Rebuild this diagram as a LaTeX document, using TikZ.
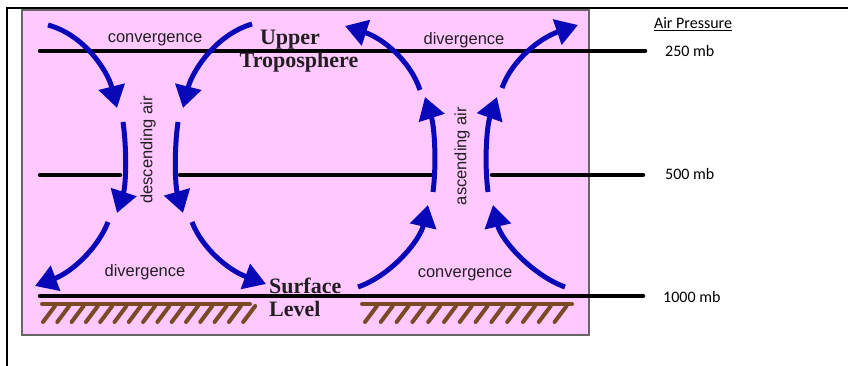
\documentclass[tikz,border=0pt]{standalone}
\usepackage{fontspec}
\setmainfont{Liberation Serif}
\newfontfamily\sansf{Liberation Sans}
\newfontfamily\calib{Carlito}
\usetikzlibrary{arrows.meta}
\definecolor{pinkbg}{RGB}{255,200,255}
\definecolor{flowblue}{RGB}{8,8,185}
\definecolor{ground}{RGB}{122,74,37}
\definecolor{txt}{RGB}{35,30,35}
\tikzset{
  level/.style={line width=4.5pt, line cap=round, black},
  flow/.style={line width=5pt, flowblue, -{Triangle[length=22pt,width=26pt]}},
  lbl/.style={font=\sansf\fontsize{16.5}{18}\selectfont, text=txt, inner sep=0pt},
  big/.style={font=\bfseries\fontsize{22}{24}\selectfont, text=txt, inner sep=0pt},
  prs/.style={font=\calib\fontsize{16}{18}\selectfont, text=black, inner sep=0pt},
  hatch/.style={line width=4pt, ground, line cap=round}
}
\begin{document}
\begin{tikzpicture}[x=1pt,y=-1pt]
\useasboundingbox (0,0) rectangle (848,366);
\fill[white] (0,0) rectangle (848,366);
% outer frame
\draw[line width=2pt] (848,8) -- (7,8) -- (7,366);
% pink panel
\filldraw[fill=pinkbg, draw=gray!80!black, line width=1.5pt] (22,10) rectangle (589,335);
% pressure levels
\draw[level] (40,51) -- (645,51);
\draw[level] (40,175) -- (120,175);
\draw[level] (180,175) -- (431,175);
\draw[level] (492,175) -- (643,175);
\draw[level] (40,296) -- (643,296);
% ground hatching
\draw[hatch] (42,304) -- (250,304);
\foreach \i in {0,...,14} \draw[hatch] ({43+14.3*\i},322) -- ({55+14.3*\i},306);
\draw[hatch] (362,304) -- (572,304);
\foreach \i in {0,...,12} \draw[hatch] ({365+15.8*\i},322) -- ({377+15.8*\i},306);
% coordinates of flows
\coordinate (a1s) at (48,25);   \coordinate (a1e) at (117,108);
\coordinate (a2s) at (252,24);  \coordinate (a2e) at (183,108);
\coordinate (a3s) at (123,122); \coordinate (a3e) at (117,213);
\coordinate (a4s) at (178,122); \coordinate (a4e) at (183,213);
\coordinate (a5s) at (108,222); \coordinate (a5e) at (35,286);
\coordinate (a6s) at (192,222); \coordinate (a6e) at (266,284);
\coordinate (b1s) at (358,287); \coordinate (b1e) at (428,205);
\coordinate (b2s) at (565,287); \coordinate (b2e) at (493,205);
\coordinate (b3s) at (433,192); \coordinate (b3e) at (425,97);
\coordinate (b4s) at (488,192); \coordinate (b4e) at (497,97);
\coordinate (b5s) at (420,90);  \coordinate (b5e) at (345,26);
\coordinate (b6s) at (502,88);  \coordinate (b6e) at (578,25);
% descending side
\draw[flow] (a1s) .. controls (85,35) and (108,72) .. (a1e);
\draw[flow] (a2s) .. controls (215,35) and (192,72) .. (a2e);
\draw[flow] (a3s) .. controls (127,150) and (126,185) .. (a3e);
\draw[flow] (a4s) .. controls (174,150) and (175,185) .. (a4e);
\draw[flow] (a5s) .. controls (98,248) and (72,272) .. (a5e);
\draw[flow] (a6s) .. controls (202,248) and (228,270) .. (a6e);
% ascending side
\draw[flow] (b1s) .. controls (392,275) and (420,240) .. (b1e);
\draw[flow] (b2s) .. controls (532,275) and (501,240) .. (b2e);
\draw[flow] (b3s) .. controls (437,160) and (434,125) .. (b3e);
\draw[flow] (b4s) .. controls (484,160) and (487,125) .. (b4e);
\draw[flow] (b5s) .. controls (410,60) and (382,38) .. (b5e);
\draw[flow] (b6s) .. controls (512,60) and (540,38) .. (b6e);
% labels
\node[lbl, anchor=base] (conv1) at (155,43) {convergence};
\node[lbl, anchor=base] (div1) at (464,45) {divergence};
\node[lbl, anchor=base] (div2) at (145,276) {divergence};
\node[lbl, anchor=base] (conv2) at (465,277) {convergence};
\node[lbl, rotate=90] (desc) at (148,150) {descending air};
\node[lbl, rotate=90] (asc) at (462,156) {ascending air};
\node[big, anchor=base] (upper) at (290,45) {Upper};
\node[big, anchor=base] (tropo) at (299,68) {Troposphere};
\node[big, anchor=base west] (surf) at (269,293) {Surface};
\node[big, anchor=base west] (levl) at (269,316) {Level};
% pressure labels
\node[prs, anchor=base] (ap) at (693,29) {\underline{Air Pressure}};
\node[prs, anchor=base west] (p250) at (665,57) {250 mb};
\node[prs, anchor=base west] (p500) at (665,180) {500 mb};
\node[prs, anchor=base west] (p1000) at (663,302) {1000 mb};
\end{tikzpicture}
\end{document}
